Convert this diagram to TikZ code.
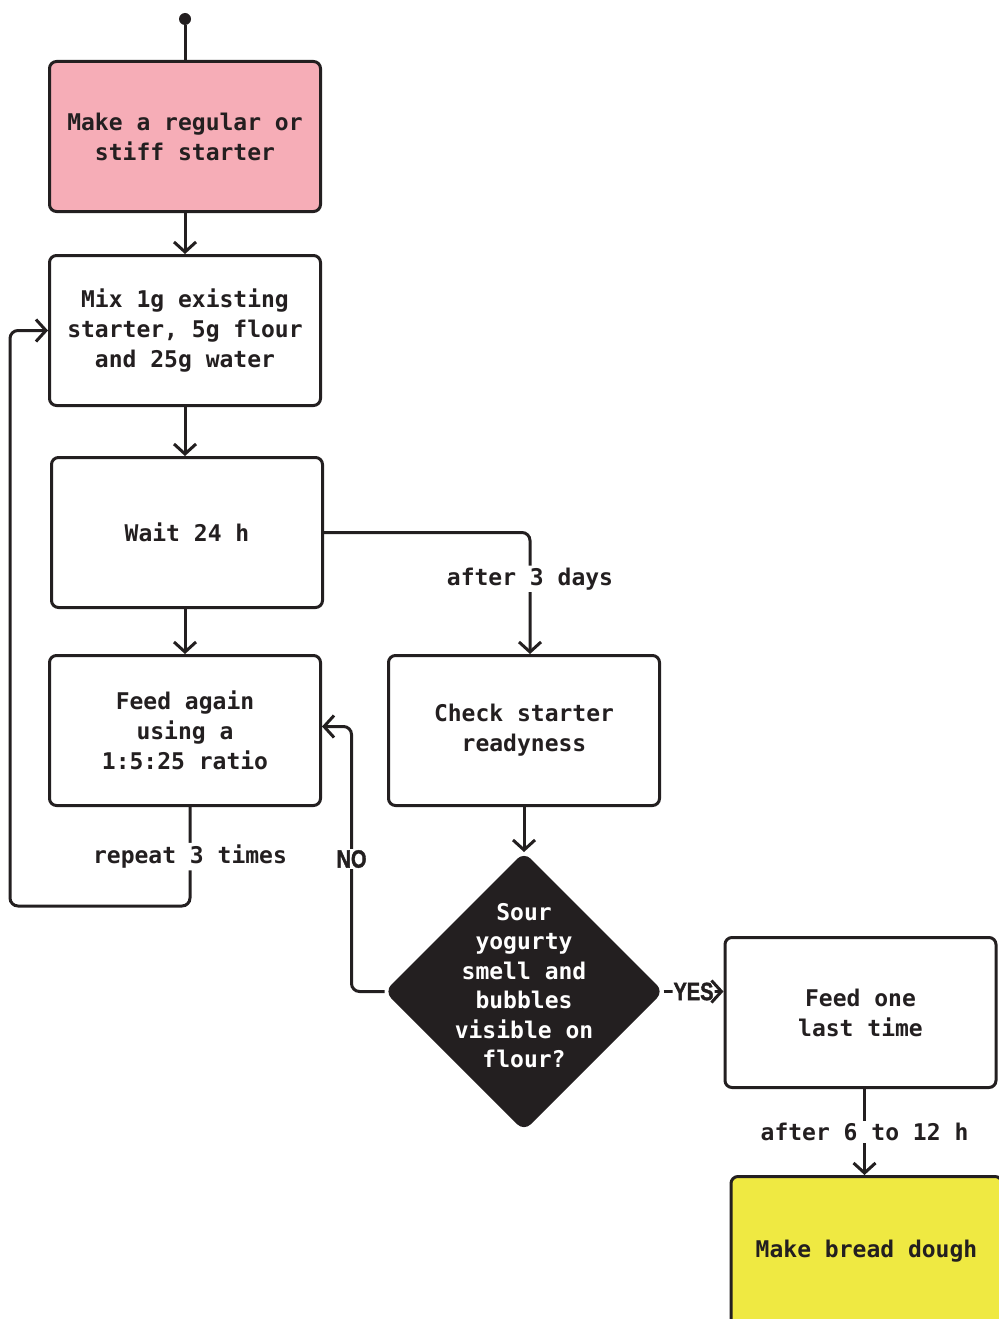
\documentclass[tikz,border=0pt]{standalone}
\usepackage{fontspec}
\setmonofont{DejaVu Sans Mono}
\newfontfamily\answerfont[FakeStretch=0.8, FakeBold=1.5]{Liberation Sans Bold}
\usepackage{tikz}
\usetikzlibrary{arrows.meta}
\usetikzlibrary{positioning}
\usetikzlibrary{shapes.geometric}

\definecolor{ink}{HTML}{231F20}
\definecolor{starterpink}{HTML}{F6ADB7}
\definecolor{doughyellow}{HTML}{EFE942}

\begin{document}
\begin{tikzpicture}[x=1pt, y=-1pt]

\tikzstyle{stepbox}=[draw=ink, line width=3pt, rounded corners=7pt, minimum width=271pt, minimum height=150pt, align=center, text=ink, font=\ttfamily\bfseries\fontsize{23}{30}\selectfont]
\tikzstyle{decision}=[diamond, aspect=1, draw=ink, fill=ink, line width=3pt, rounded corners=8pt, minimum width=276pt, minimum height=276pt, inner sep=0pt]
\tikzstyle{line}=[draw=ink, line width=3pt, rounded corners=8pt]
\tikzstyle{arrow}=[line, -{Straight Barb[length=10pt, width=22pt]}]
\tikzstyle{tag}=[fill=white, inner sep=2pt, text=ink, font=\ttfamily\bfseries\fontsize{23}{30}\selectfont]
\tikzstyle{answer}=[fill=white, inner sep=1pt, text=ink, font=\answerfont\fontsize{25}{28}\selectfont]

\useasboundingbox (0,0) rectangle (998,1319);

\node[circle, fill=ink, inner sep=0pt, minimum size=12pt] (start) at (185,19) {};
\node[stepbox, fill=starterpink] (starter) at (185,136.5) {Make a regular or\\stiff starter};
\node[stepbox, below=41pt of starter] (mix) {Mix 1g existing\\starter, 5g flour\\and 25g water};
\node[stepbox, below=49pt of mix, xshift=2pt] (wait) {Wait 24 h};
\node[stepbox, below=45pt of wait, xshift=-2pt] (feed) {Feed again\\using a\\1:5:25 ratio};
\node[stepbox, right=65pt of feed] (check) {Check starter\\readyness};
\node[decision, below=45pt of check, label={[text=white, align=center, yshift=6pt, font=\ttfamily\bfseries\fontsize{23}{29.5}\selectfont]center:{Sour\\yogurty\\smell and\\bubbles\\visible on\\flour?}}] (sour) {};
\node[stepbox, right=60pt of sour, yshift=-21pt] (last) {Feed one\\last time};
\node[stepbox, fill=doughyellow, below=86pt of last, xshift=6pt] (dough) {Make bread dough};
\coordinate (loop) at (10,906);

\path[line] (start) -- (starter);
\path[arrow] (starter) -- (mix);
\path[arrow] (mix.south) -- (mix.south |- wait.north);
\path[arrow] (wait.south -| feed.north) -- (feed.north);
\path[arrow] (wait.east) -| ([xshift=6pt]check.north) node[tag, pos=0.69] {after 3 days};
\path[arrow] (check.south) -- (check.south |- sour.north);
\path[arrow] (sour.west) -- ++(-33,0) |- ([yshift=4pt]feed.east) node[answer, pos=0.25] {NO};
\path[arrow] (sour.east) -- (sour.east -| last.west) node[answer, midway] {YES};
\path[arrow] ([xshift=4pt]last.south) -- ([xshift=4pt]last.south |- dough.north) node[tag, midway] {after 6 to 12 h};
\path[arrow] ([xshift=5pt]feed.south) |- (loop) node[tag, pos=0.25] {repeat 3 times} |- (mix.west);

\end{tikzpicture}
\end{document}
